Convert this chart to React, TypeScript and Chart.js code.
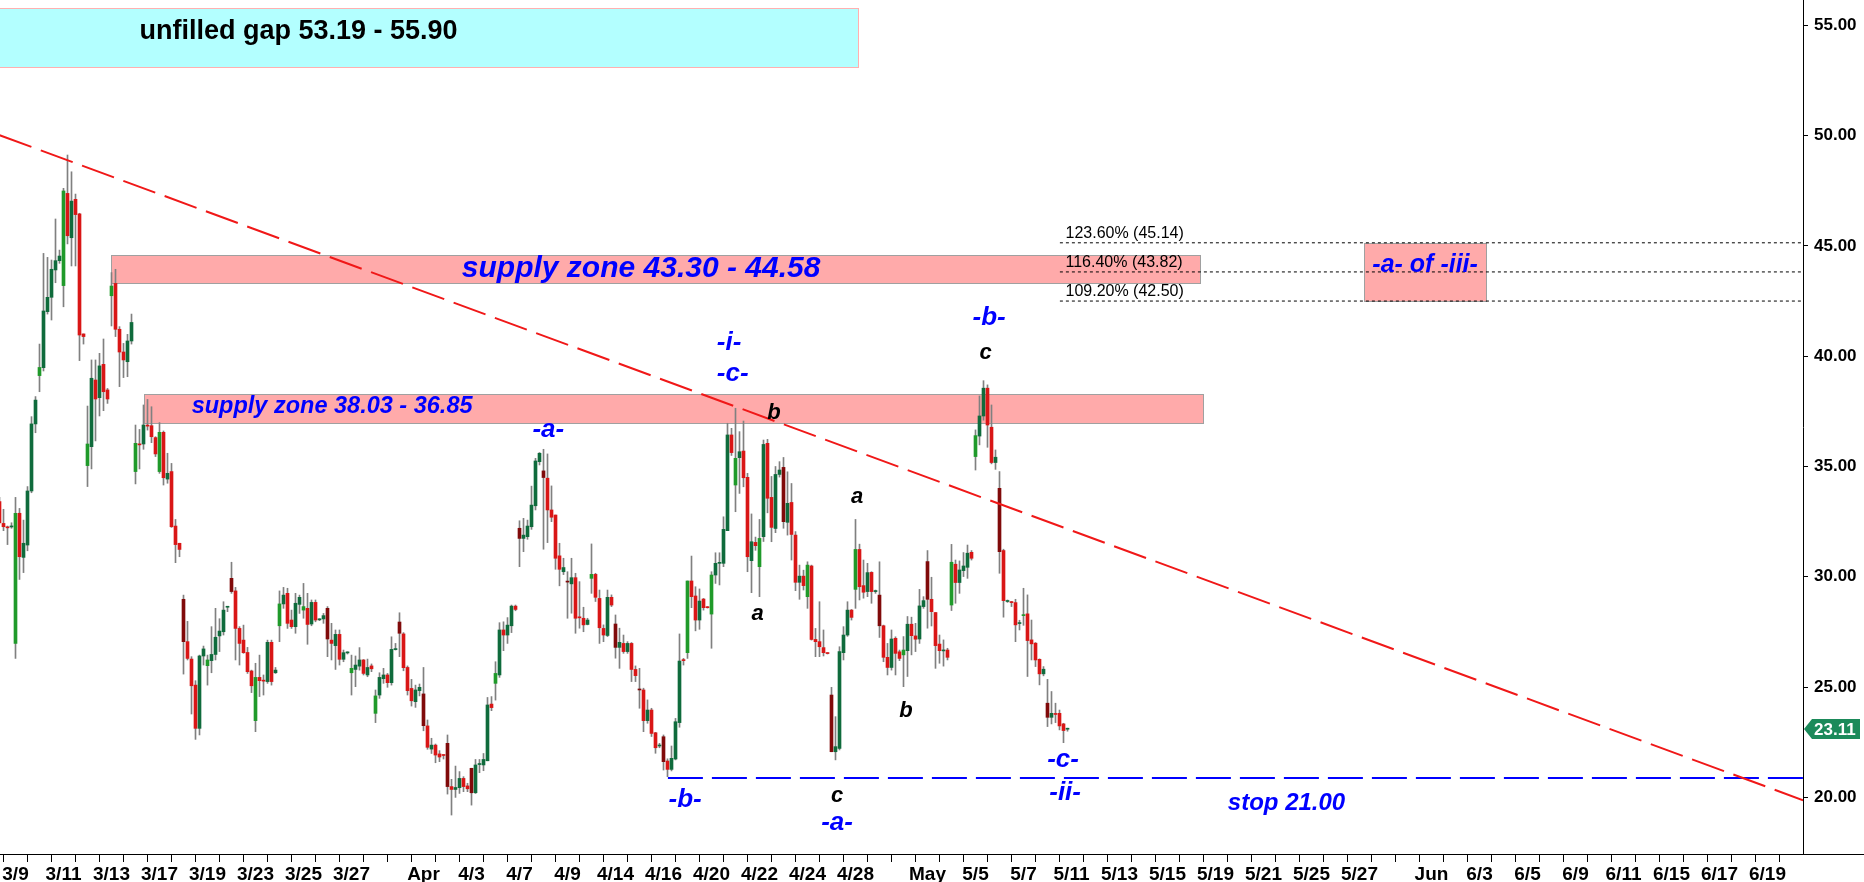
import React, { useEffect, useRef } from 'react';
import { Chart, registerables } from 'chart.js';
Chart.register(...registerables);

// ---- hourly candles (6 bars per trading day), bar index 0 = last bars of 3/6 ----
const OPEN = [
  33.41, 32.42, 32.25, 32.26, 26.98, 32.88, 30.88, 31.44, 33.89, 36.93,
  39.12, 39.48, 42.02, 42.67, 43.91, 44.33, 43.20, 47.38, 45.37, 47.11,
  46.45, 41.01, 35.04, 35.90, 38.92, 38.12, 39.63, 38.47, 42.74, 43.30,
  41.22, 40.19, 39.75, 40.69, 34.77, 36.02, 36.02, 36.88, 36.85, 36.31,
  34.77, 36.55, 34.43, 34.77, 32.30, 31.52, 28.98, 27.06, 26.27, 25.09,
  23.13, 26.41, 25.97, 26.20, 26.48, 27.32, 27.51, 28.62, 29.93, 29.36,
  27.66, 27.13, 26.57, 25.73, 23.48, 25.44, 25.31, 25.25, 27.03, 25.65,
  27.78, 28.77, 29.25, 28.04, 27.74, 28.75, 28.49, 28.57, 27.86, 28.84,
  28.05, 28.09, 28.57, 27.13, 26.88, 27.39, 26.26, 26.55, 25.65, 25.80,
  25.95, 26.23, 25.55, 25.96, 23.81, 24.64, 25.38, 25.55, 25.20, 26.70,
  27.95, 27.41, 25.89, 24.94, 24.34, 24.84, 24.69, 23.24, 22.19, 22.37,
  21.97, 21.93, 22.45, 20.49, 20.36, 20.44, 20.86, 20.52, 21.32, 20.21,
  21.49, 21.47, 21.66, 24.23, 25.17, 25.55, 27.59, 27.36, 27.78, 28.67,
  32.20, 31.74, 31.82, 32.27, 33.22, 35.22, 34.80, 34.47, 33.03, 32.80,
  30.95, 30.23, 29.80, 29.68, 29.96, 28.17, 28.12, 27.84, 29.93, 30.11,
  29.02, 27.66, 27.34, 29.07, 27.86, 26.80, 26.98, 26.61, 26.98, 25.80,
  24.90, 24.87, 23.48, 23.96, 22.93, 22.33, 22.75, 21.65, 21.27, 21.74,
  23.39, 26.23, 26.56, 29.81, 29.13, 28.04, 28.99, 28.62, 28.31, 30.08,
  30.61, 30.61, 32.09, 36.43, 34.16, 35.40, 35.70, 34.51, 30.73, 31.56,
  30.46, 31.82, 36.05, 33.60, 32.19, 34.64, 34.96, 32.47, 33.37, 31.89,
  29.75, 30.03, 29.10, 30.49, 27.16, 27.06, 26.79, 26.53, 24.64, 22.07,
  22.22, 26.56, 27.36, 28.49, 29.43, 31.24, 29.60, 29.33, 30.20, 29.33,
  29.17, 27.78, 26.35, 25.89, 27.21, 26.60, 26.46, 26.65, 27.85, 27.32,
  27.18, 28.65, 30.69, 28.98, 28.38, 26.95, 26.64, 26.68, 28.72, 30.57,
  29.74, 30.28, 30.43, 31.11, 35.45, 36.38, 37.29, 38.55, 36.78, 35.18,
  34.01, 31.19, 28.88, 28.85, 28.83, 27.88, 28.24, 28.32, 27.14, 26.99,
  26.26, 25.60, 24.27, 23.63, 23.78, 23.81, 23.33, 23.09,
];
const HIGH = [
  33.60, 33.06, 32.30, 32.45, 33.60, 33.10, 32.57, 34.09, 37.26, 38.17,
  40.55, 44.66, 44.48, 44.36, 46.22, 44.81, 47.61, 49.12, 48.36, 47.35,
  46.48, 41.01, 37.74, 39.83, 39.83, 40.13, 40.78, 38.54, 43.79, 43.94,
  41.34, 40.58, 40.99, 41.91, 36.88, 36.68, 37.79, 38.04, 37.71, 36.35,
  36.99, 36.61, 35.60, 35.14, 32.60, 31.52, 29.17, 27.98, 26.38, 25.29,
  26.45, 26.86, 26.45, 27.74, 28.57, 28.10, 28.87, 28.65, 30.66, 29.52,
  27.74, 27.81, 26.80, 25.77, 26.08, 26.45, 25.55, 27.13, 27.13, 25.89,
  29.36, 29.52, 29.48, 28.49, 29.25, 29.17, 29.70, 29.25, 28.95, 28.95,
  28.10, 28.34, 28.65, 27.89, 27.59, 27.59, 26.68, 26.60, 26.45, 26.41,
  26.79, 26.25, 26.27, 26.05, 24.87, 25.65, 25.85, 25.62, 27.28, 26.98,
  28.37, 27.47, 25.96, 25.35, 25.09, 25.14, 25.89, 23.51, 22.68, 22.42,
  22.12, 21.93, 22.83, 20.82, 21.42, 21.17, 20.94, 20.64, 21.32, 21.72,
  21.72, 21.99, 24.53, 24.57, 26.15, 27.92, 27.96, 28.15, 28.72, 28.72,
  32.54, 32.65, 32.57, 34.11, 35.37, 35.63, 35.78, 35.57, 34.12, 32.80,
  31.52, 30.84, 30.23, 30.84, 30.16, 29.78, 28.62, 28.12, 31.49, 30.16,
  29.40, 27.82, 29.40, 29.18, 28.27, 27.67, 27.36, 27.06, 27.02, 25.96,
  25.85, 24.95, 24.42, 24.04, 22.95, 22.45, 22.83, 21.75, 22.33, 23.58,
  27.41, 26.30, 29.81, 30.94, 29.55, 29.45, 29.02, 28.65, 30.23, 31.09,
  31.09, 32.72, 36.96, 36.73, 37.64, 36.58, 37.06, 34.69, 32.85, 31.80,
  32.60, 36.20, 36.23, 34.55, 35.00, 35.22, 35.41, 34.76, 34.23, 32.05,
  30.53, 30.30, 30.68, 30.53, 27.66, 28.87, 27.59, 26.56, 24.99, 23.66,
  26.83, 27.74, 28.87, 28.52, 32.60, 31.48, 30.76, 30.61, 30.23, 29.40,
  30.68, 27.81, 26.98, 27.59, 27.28, 26.68, 27.29, 28.20, 28.17, 27.89,
  29.43, 29.10, 31.19, 29.98, 28.38, 27.36, 27.14, 26.76, 31.47, 30.76,
  30.72, 31.10, 31.44, 31.19, 36.66, 38.20, 38.89, 38.70, 37.79, 35.75,
  34.77, 31.25, 28.95, 28.88, 28.98, 28.03, 29.48, 29.18, 28.04, 27.02,
  26.28, 25.93, 25.35, 24.80, 24.27, 23.96, 23.36, 23.14,
];
const LOW = [
  32.40, 32.09, 31.46, 32.20, 26.30, 29.88, 30.19, 31.18, 33.81, 36.53,
  38.39, 39.33, 41.91, 41.64, 43.33, 44.21, 42.24, 45.09, 44.09, 44.09,
  39.80, 40.55, 34.09, 34.89, 36.16, 37.29, 37.53, 37.86, 41.37, 40.89,
  38.62, 39.03, 39.07, 40.55, 34.21, 34.89, 35.78, 36.65, 36.08, 35.45,
  34.69, 34.16, 34.24, 32.24, 30.64, 30.91, 25.59, 26.23, 23.78, 22.63,
  22.83, 26.00, 25.09, 25.65, 26.23, 26.61, 27.36, 28.42, 29.25, 26.23,
  26.00, 26.53, 25.62, 24.75, 22.98, 24.57, 24.64, 25.17, 25.09, 25.62,
  27.06, 28.57, 27.66, 27.66, 27.44, 28.34, 28.12, 26.94, 27.78, 27.96,
  28.01, 27.89, 26.38, 26.23, 25.80, 26.00, 26.15, 26.50, 24.64, 25.02,
  25.77, 25.55, 25.47, 25.70, 23.39, 24.49, 25.17, 24.99, 25.09, 26.68,
  26.38, 25.74, 24.64, 24.14, 24.08, 24.60, 23.02, 22.18, 21.99, 21.57,
  21.62, 21.74, 20.15, 19.20, 20.00, 20.18, 20.26, 20.26, 19.65, 20.18,
  21.12, 21.21, 21.66, 23.93, 24.41, 25.44, 26.65, 26.98, 27.47, 28.46,
  30.46, 31.14, 31.70, 32.15, 33.03, 35.07, 31.25, 31.55, 32.50, 30.34,
  29.59, 30.10, 28.12, 28.35, 27.44, 27.67, 27.51, 27.82, 29.25, 28.88,
  26.98, 27.06, 27.29, 28.65, 26.31, 25.85, 26.53, 26.53, 25.25, 25.25,
  24.04, 22.98, 23.36, 22.76, 22.00, 22.25, 21.24, 20.94, 21.20, 21.70,
  23.18, 26.00, 26.30, 28.60, 27.55, 27.62, 28.49, 28.58, 26.76, 29.70,
  29.63, 30.46, 32.09, 35.50, 32.95, 33.78, 34.08, 30.23, 29.28, 31.20,
  29.10, 31.60, 32.90, 31.59, 32.00, 34.52, 32.20, 31.89, 30.76, 29.37,
  28.98, 29.40, 28.57, 27.13, 26.38, 26.38, 26.41, 26.50, 22.07, 21.70,
  22.15, 26.23, 27.30, 28.04, 28.57, 28.95, 29.03, 29.10, 28.80, 29.25,
  27.25, 26.15, 25.55, 25.77, 25.55, 26.20, 25.02, 25.48, 26.46, 26.61,
  26.98, 28.57, 27.67, 27.77, 25.85, 26.08, 25.95, 26.23, 28.47, 28.80,
  29.25, 30.01, 29.93, 30.76, 34.84, 35.98, 37.10, 35.87, 35.12, 34.87,
  30.16, 28.17, 28.84, 28.65, 27.06, 27.59, 27.80, 25.48, 26.23, 25.93,
  25.10, 25.51, 23.21, 23.33, 23.39, 23.06, 22.48, 23.00,
];
const CLOSE = [
  32.45, 32.27, 32.22, 32.28, 32.88, 30.91, 31.52, 33.89, 36.93, 38.01,
  39.49, 42.05, 42.67, 43.94, 44.33, 44.54, 47.49, 45.46, 47.03, 46.42,
  40.96, 40.89, 36.02, 39.00, 38.06, 39.56, 38.39, 38.06, 43.18, 41.22,
  40.19, 39.83, 40.69, 41.53, 36.05, 35.98, 36.88, 36.83, 36.35, 35.57,
  36.55, 34.49, 34.69, 32.27, 31.46, 31.24, 27.06, 26.30, 25.06, 23.13,
  26.41, 26.73, 26.23, 26.48, 27.26, 27.54, 28.49, 28.65, 29.33, 27.66,
  26.98, 26.56, 25.70, 25.06, 25.44, 25.29, 25.27, 27.03, 25.25, 25.77,
  28.77, 29.17, 27.89, 27.74, 28.80, 29.07, 28.65, 27.84, 28.84, 28.04,
  28.08, 28.24, 27.18, 26.98, 27.39, 26.26, 26.56, 26.57, 25.85, 26.00,
  26.23, 25.62, 25.89, 25.83, 24.60, 25.44, 25.55, 25.20, 26.71, 26.72,
  27.44, 25.88, 24.84, 24.38, 24.87, 24.99, 23.25, 22.27, 22.37, 21.92,
  21.83, 21.90, 20.49, 20.36, 20.45, 20.86, 20.49, 20.39, 20.21, 21.47,
  21.52, 21.72, 24.19, 24.07, 25.62, 27.59, 27.36, 27.81, 28.67, 28.52,
  31.74, 31.89, 32.30, 33.25, 35.25, 35.60, 34.50, 33.03, 32.70, 30.84,
  30.34, 30.42, 29.76, 29.96, 28.12, 28.14, 27.82, 28.04, 30.11, 29.07,
  27.69, 27.36, 29.07, 28.72, 26.80, 27.03, 26.61, 26.98, 25.80, 25.52,
  24.87, 23.48, 23.96, 22.90, 22.25, 22.35, 21.62, 21.27, 21.77, 23.43,
  26.18, 26.20, 29.81, 29.10, 28.04, 28.90, 28.60, 28.60, 30.08, 30.61,
  30.64, 32.15, 36.43, 35.63, 35.37, 35.67, 34.49, 30.91, 31.59, 31.41,
  31.74, 36.00, 33.56, 32.24, 34.64, 34.84, 32.50, 33.33, 31.92, 29.75,
  30.03, 29.60, 30.53, 27.16, 27.06, 26.83, 26.56, 26.52, 22.07, 22.30,
  26.61, 27.36, 28.49, 28.16, 31.24, 29.55, 29.30, 30.19, 29.33, 29.34,
  27.78, 26.35, 25.89, 27.18, 26.53, 26.30, 26.68, 27.85, 27.33, 27.17,
  28.68, 28.92, 28.98, 28.42, 26.88, 26.65, 26.66, 26.35, 30.66, 29.74,
  30.31, 30.49, 31.07, 30.84, 36.40, 37.29, 38.55, 36.88, 35.18, 35.42,
  31.14, 28.92, 28.90, 28.83, 27.82, 27.90, 28.26, 27.11, 26.96, 26.23,
  25.60, 25.81, 23.63, 23.81, 23.76, 23.24, 23.03, 23.11,
];

const FIRST_BAR_OF_3_9 = 4;
const BARS_PER_DAY = 6;
// one entry per trading day from 3/9 on (blank = tick without label)
const DATE_LABELS = [
  '3/9', '', '3/11', '', '3/13', '', '3/17', '', '3/19', '', '3/23', '', '3/25', '', '3/27', '', '', 'Apr', '',
  '4/3', '', '4/7', '', '4/9', '', '4/14', '', '4/16', '', '4/20', '', '4/22', '', '4/24', '', '4/28', '', '',
  'May', '', '5/5', '', '5/7', '', '5/11', '', '5/13', '', '5/15', '', '5/19', '', '5/21', '', '5/25', '',
  '5/27', '', '', 'Jun', '', '6/3', '', '6/5', '', '6/9', '', '6/11', '', '6/15', '', '6/17', '', '6/19', '',
];
const PRICE_TICKS = [20, 25, 30, 35, 40, 45, 50, 55];

// annotation levels (price) and extents (bar index)
const GAP_ZONE = [53.12, 55.77];
const GAP_SPAN = [-3, 214.7];
const SUPPLY_UPPER = [43.3, 44.58];
const SUPPLY_UPPER_SPAN = [27.8, 300.2];
const SUPPLY_LOWER = [36.99, 38.27];
const SUPPLY_LOWER_SPAN = [36.0, 300.9];
const TARGET_ZONE = [42.5, 45.14];
const TARGET_SPAN = [341.2, 371.7];
const FIB_LEVELS = [45.14, 43.82, 42.5];
const FIB_TEXT = ['123.60% (45.14)', '116.40% (43.82)', '109.20% (42.50)'];
const FIB_START = 265.1;
const TREND_K = [0, 450.9];
const TREND_V = [50.02, 19.87];
const STOP_LEVEL = 20.88;
const STOP_START = 167.1;
const X_MIN = 0.125;
const X_MAX = 450.875;
const Y_MIN = 17.434;
const Y_MAX = 56.147;

// [text, bar index, price of baseline, kind]
const LABELS: [string, number, number, string][] = [
  ['-a-', 137.2, 36.35, 'wave'],
  ['-i-', 182.4, 40.28, 'wave'],
  ['-c-', 183.3, 38.88, 'wave'],
  ['b', 193.6, 37.14, 'sub'],
  ['a', 214.4, 33.33, 'sub'],
  ['a', 189.5, 28.04, 'sub'],
  ['c', 209.4, 19.77, 'sub'],
  ['-a-', 209.4, 18.52, 'wave'],
  ['-b-', 171.4, 19.58, 'wave'],
  ['c', 246.5, 39.87, 'sub'],
  ['-b-', 247.4, 41.41, 'wave'],
  ['b', 226.6, 23.66, 'sub'],
  ['-c-', 265.9, 21.39, 'wave'],
  ['-ii-', 266.4, 19.88, 'wave'],
  ['stop 21.00', 321.75, 19.43, 'stop'],
  ['-a- of -iii-', 356.4, 43.82, 'target'],
  ['supply zone 43.30 - 44.58', 160.4, 43.61, 'zoneBig'],
  ['unfilled gap 53.19 - 55.90', 74.75, 54.4, 'gap'],
];
const LOWER_ZONE_TEXT: [string, number, number] = ['supply zone 38.03 - 36.85', 48.05, 37.41];

const FONT = '"Liberation Sans", Arial, sans-serif';
const NARROW = '"Liberation Sans Narrow", "Arial Narrow", "Liberation Sans", sans-serif';

function candleColor(k: number): string {
  const first = (k - FIRST_BAR_OF_3_9) % BARS_PER_DAY === 0;
  const up = CLOSE[k] >= OPEN[k];
  if (first) return up ? '#1f9a2a' : '#800a0a';
  return up ? '#0f6b3c' : '#d91616';
}

const annotations = {
  id: 'annotations',
  beforeDatasetsDraw(chart: any) {
    const { ctx, chartArea: a } = chart;
    const xs = chart.scales.x;
    const ys = chart.scales.y;
    ctx.save();
    ctx.beginPath();
    ctx.rect(a.left, a.top, a.right - a.left, a.bottom - a.top);
    ctx.clip();
    const box = (span: number[], lv: number[], fill: string, stroke: string) => {
      const x0 = Math.round(xs.getPixelForValue(span[0])) + 0.5;
      const x1 = Math.round(xs.getPixelForValue(span[1])) + 0.5;
      const y0 = Math.round(ys.getPixelForValue(lv[1])) + 0.5;
      const y1 = Math.round(ys.getPixelForValue(lv[0])) + 0.5;
      ctx.fillStyle = fill;
      ctx.fillRect(x0, y0, x1 - x0, y1 - y0);
      ctx.strokeStyle = stroke;
      ctx.lineWidth = 1;
      ctx.strokeRect(x0, y0, x1 - x0, y1 - y0);
    };
    box(GAP_SPAN, GAP_ZONE, '#b3ffff', '#ffb0b0');
    box(SUPPLY_UPPER_SPAN, SUPPLY_UPPER, '#ffaaaa', '#a0a0a0');
    box(SUPPLY_LOWER_SPAN, SUPPLY_LOWER, '#ffaaaa', '#a0a0a0');
    box(TARGET_SPAN, TARGET_ZONE, '#ffaaaa', '#a0a0a0');
    ctx.restore();
  },
  afterDatasetsDraw(chart: any) {
    const { ctx, chartArea: a } = chart;
    const xs = chart.scales.x;
    const ys = chart.scales.y;
    ctx.save();
    ctx.textBaseline = 'alphabetic';
    // fib texts
    ctx.font = '16px ' + FONT;
    ctx.fillStyle = '#000';
    ctx.textAlign = 'left';
    FIB_LEVELS.forEach((lv, i) => {
      ctx.fillText(FIB_TEXT[i], xs.getPixelForValue(FIB_START + 1.4), ys.getPixelForValue(lv) - 5);
    });
    const fonts: Record<string, [string, string]> = {
      wave: ['italic bold 26px ' + FONT, '#0000ff'],
      sub: ['italic bold 22px ' + FONT, '#000000'],
      stop: ['italic bold 24px ' + FONT, '#0000ff'],
      target: ['italic bold 25px ' + FONT, '#0000ff'],
      zoneBig: ['italic bold 30px ' + FONT, '#0000ff'],
      gap: ['bold 27px ' + FONT, '#000000'],
    };
    ctx.textAlign = 'center';
    LABELS.forEach(([t, k, v, kind]) => {
      ctx.font = fonts[kind][0];
      ctx.fillStyle = fonts[kind][1];
      ctx.fillText(t, xs.getPixelForValue(k), ys.getPixelForValue(v));
    });
    ctx.textAlign = 'left';
    ctx.font = 'italic bold 23.5px ' + FONT;
    ctx.fillStyle = '#0000ff';
    ctx.fillText(LOWER_ZONE_TEXT[0], xs.getPixelForValue(LOWER_ZONE_TEXT[1]), ys.getPixelForValue(LOWER_ZONE_TEXT[2]));

    // extend x axis line past the price axis
    ctx.strokeStyle = '#000';
    ctx.lineWidth = 1;
    ctx.beginPath();
    ctx.moveTo(a.right, a.bottom + 0.5);
    ctx.lineTo(chart.width, a.bottom + 0.5);
    ctx.stroke();

    // last price tag
    const last = CLOSE[CLOSE.length - 1];
    const yp = Math.round(ys.getPixelForValue(last));
    const xl = a.right + 1;
    ctx.fillStyle = '#1b8a5a';
    ctx.beginPath();
    ctx.moveTo(xl, yp);
    ctx.lineTo(xl + 8, yp - 10);
    ctx.lineTo(xl + 56, yp - 10);
    ctx.lineTo(xl + 56, yp + 10);
    ctx.lineTo(xl + 8, yp + 10);
    ctx.closePath();
    ctx.fill();
    ctx.fillStyle = '#fff';
    ctx.font = 'bold 17px ' + FONT;
    ctx.textAlign = 'left';
    ctx.textBaseline = 'middle';
    ctx.fillText(last.toFixed(2), xl + 10, yp + 1);
    ctx.restore();
  },
};

const whiteBg = {
  id: 'whiteBg',
  beforeDraw(chart: any) {
    const { ctx } = chart;
    ctx.save();
    ctx.fillStyle = '#fff';
    ctx.fillRect(0, 0, chart.width, chart.height);
    ctx.restore();
  },
};

export default function App() {
  const ref = useRef<HTMLCanvasElement>(null);
  useEffect(() => {
    if (!ref.current) return;
    const idx = OPEN.map((_, k) => k);
    const colors = idx.map(candleColor);
    const chart = new Chart(ref.current, {
      type: 'bar',
      data: {
        datasets: [
          {
            type: 'bar',
            label: 'wicks',
            data: idx.map((k) => ({ x: k, y: [LOW[k], HIGH[k]] })) as any,
            backgroundColor: '#808080',
            barThickness: 1,
            grouped: false,
            minBarLength: 1,
            order: 3,
          } as any,
          {
            type: 'bar',
            label: 'bodies',
            data: idx.map((k) => ({ x: k, y: [OPEN[k], CLOSE[k]] })) as any,
            backgroundColor: colors,
            barThickness: 3,
            grouped: false,
            minBarLength: 1,
            order: 2,
          } as any,
          {
            type: 'line',
            label: 'trend',
            data: TREND_K.map((k, i) => ({ x: k, y: TREND_V[i] })),
            borderColor: '#f01818',
            borderWidth: 2,
            borderDash: [34, 10],
            pointRadius: 0,
            order: 1,
          },
          {
            type: 'line',
            label: 'stop',
            data: [{ x: STOP_START, y: STOP_LEVEL }, { x: X_MAX, y: STOP_LEVEL }],
            borderColor: '#0000ff',
            borderWidth: 2,
            borderDash: [35, 9],
            pointRadius: 0,
            order: 1,
          },
          ...FIB_LEVELS.map((lv) => ({
            type: 'line' as const,
            label: 'fib ' + lv,
            data: [{ x: FIB_START, y: lv }, { x: X_MAX, y: lv }],
            borderColor: '#000000',
            borderWidth: 1,
            borderDash: [3, 3],
            pointRadius: 0,
            order: 1,
          })),
        ],
      },
      options: {
        responsive: false,
        animation: false,
        events: [],
        layout: { padding: 0 },
        plugins: { legend: { display: false }, tooltip: { enabled: false } },
        scales: {
          x: {
            type: 'linear',
            min: X_MIN,
            max: X_MAX,
            offset: false,
            grid: { drawOnChartArea: false, drawTicks: true, tickLength: 8, color: '#000' },
            border: { display: true, color: '#000' },
            afterBuildTicks: (s: any) => {
              s.ticks = DATE_LABELS.map((_, d) => ({ value: FIRST_BAR_OF_3_9 + BARS_PER_DAY * d }));
            },
            afterFit: (s: any) => {
              s.height = 28;
              s.paddingLeft = 0;
              s.paddingRight = 0;
              s.paddingTop = 0;
              s.paddingBottom = 0;
            },
            ticks: {
              autoSkip: false,
              maxRotation: 0,
              minRotation: 0,
              padding: 1,
              color: '#000',
              font: { family: NARROW, size: 19, weight: 'bold' },
              callback: (v: any) => DATE_LABELS[Math.round((Number(v) - FIRST_BAR_OF_3_9) / BARS_PER_DAY)] ?? '',
            },
          },
          y: {
            type: 'linear',
            position: 'right',
            min: Y_MIN,
            max: Y_MAX,
            grid: { drawOnChartArea: false, drawTicks: true, tickLength: 5, color: '#000' },
            border: { display: true, color: '#000' },
            afterBuildTicks: (s: any) => {
              s.ticks = PRICE_TICKS.map((v) => ({ value: v }));
            },
            afterFit: (s: any) => {
              s.width = 61;
              s.paddingLeft = 0;
              s.paddingRight = 0;
              s.paddingTop = 0;
              s.paddingBottom = 0;
            },
            ticks: {
              padding: 6,
              color: '#000',
              font: { family: FONT, size: 17, weight: 'bold' },
              callback: (v: any) => Number(v).toFixed(2),
            },
          },
        },
      } as any,
      plugins: [whiteBg, annotations],
    });
    return () => chart.destroy();
  }, []);
  return (
    <div style={{ position: 'fixed', left: 0, top: 0, width: 1864, height: 882, background: '#fff' }}>
      <canvas ref={ref} width={1864} height={882} style={{ display: 'block' }} />
    </div>
  );
}
